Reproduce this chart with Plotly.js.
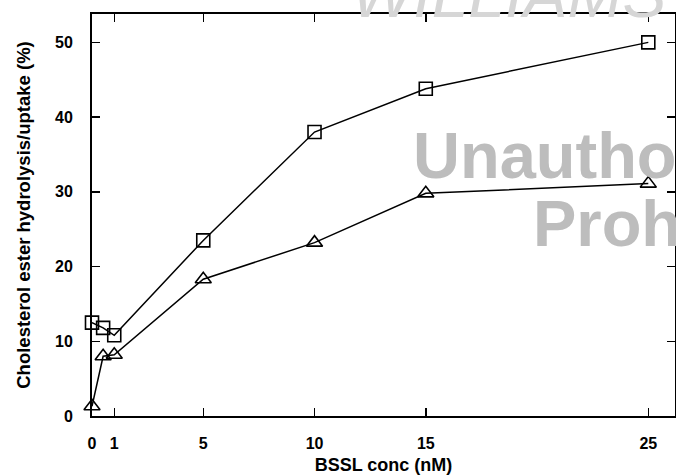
<!DOCTYPE html>
<html>
<head>
<meta charset="utf-8">
<script src="https://cdn.plot.ly/plotly-3.0.1.min.js"></script>
<style>html,body{margin:0;padding:0;background:#fff;overflow:hidden}#chart{width:676px;height:476px}</style>
</head>
<body>
<div id="chart"></div>
<script>
const concNM = [0, 0.5, 1, 5, 10, 15, 25];
const squareSeries = [12.5, 11.8, 10.8, 23.5, 38.0, 43.8, 50.0];
const triangleSeries = [1.3, 8.0, 8.2, 18.3, 23.2, 29.8, 31.1];
const xTickVals = [0, 1, 5, 10, 15, 25];
const xTickText = ['0', '1', '5', '10', '15', '25'];
const yTickVals = [0, 10, 20, 30, 40, 50];

const font = "'Liberation Sans', Arial, sans-serif";

const traces = [
  {
    x: concNM, y: squareSeries, type: 'scatter', mode: 'lines+markers',
    line: {color: '#000', width: 1.5},
    marker: {symbol: 'square-open', size: 13, color: '#000', line: {width: 1.6, color: '#000'}},
    cliponaxis: false, showlegend: false
  },
  {
    x: concNM, y: triangleSeries, type: 'scatter', mode: 'lines+markers',
    line: {color: '#000', width: 1.5},
    marker: {symbol: 'triangle-up-open', size: 14, color: '#000', line: {width: 1.6, color: '#000'}},
    cliponaxis: false, showlegend: false
  }
];

const layout = {
  width: 676, height: 476,
  margin: {l: 92, r: 1, t: 14, b: 60},
  paper_bgcolor: '#fff', plot_bgcolor: '#fff',
  font: {family: font, color: '#000'},
  xaxis: {
    range: [0, 26.2], showgrid: false, zeroline: false,
    showline: true, linecolor: '#000', linewidth: 2, mirror: 'ticks',
    ticks: 'inside', ticklen: 8, tickwidth: 1.5, tickcolor: '#000',
    tickmode: 'array', tickvals: xTickVals, ticktext: xTickText,
    tickfont: {family: font, size: 16, weight: 'bold'},
    ticklabelstandoff: 12,
    title: {text: 'BSSL conc (nM)', font: {family: font, size: 18, weight: 'bold'}, standoff: 7}
  },
  yaxis: {
    range: [0, 53.8], showgrid: false, zeroline: false,
    showline: true, linecolor: '#000', linewidth: 2, mirror: 'ticks',
    ticks: 'inside', ticklen: 8, tickwidth: 1.5, tickcolor: '#000',
    tickmode: 'array', tickvals: yTickVals,
    tickfont: {family: font, size: 16, weight: 'bold'},
    ticklabelstandoff: 14,
    title: {text: 'Cholesterol ester hydrolysis/uptake (%)', font: {family: font, size: 18.5, weight: 'bold'}, standoff: 20}
  },
  annotations: [
    {xref: 'paper', yref: 'paper', x: 0.44, y: 1.05, xanchor: 'left', yanchor: 'middle',
     text: '<i>WILLIAMS</i>', showarrow: false,
     font: {family: font, size: 66, color: '#d6d6d6'}},
    {xref: 'paper', yref: 'paper', x: 0.547, y: 0.552, xanchor: 'left', yanchor: 'bottom',
     text: '<b>Unautho</b>', showarrow: false,
     font: {family: font, size: 65, color: '#bdbdbd'}},
    {xref: 'paper', yref: 'paper', x: 0.753, y: 0.383, xanchor: 'left', yanchor: 'bottom',
     text: '<b>Proh</b>', showarrow: false,
     font: {family: font, size: 65, color: '#bdbdbd'}}
  ]
};

Plotly.newPlot('chart', traces, layout, {displayModeBar: false, staticPlot: true});
</script>
</body>
</html>
